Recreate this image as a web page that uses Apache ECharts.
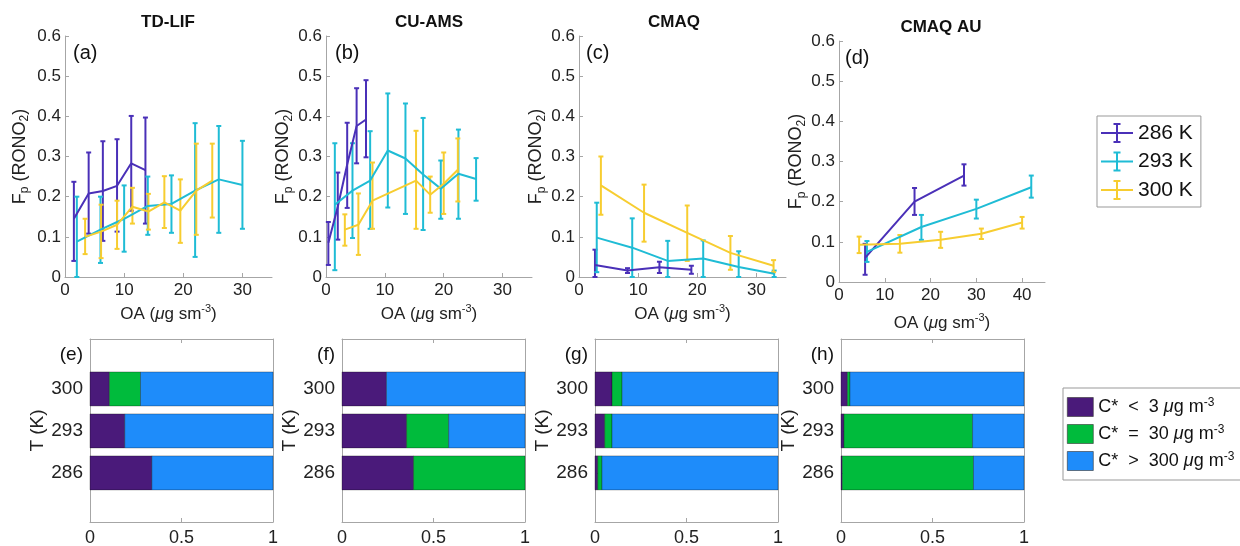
<!DOCTYPE html>
<html>
<head>
<meta charset="UTF-8">
<title>Fp(RONO2) vs OA</title>
<script src="https://cdn.jsdelivr.net/npm/echarts@6/dist/echarts.min.js"></script>
<style>html,body{margin:0;background:#fff;}</style>
</head>
<body>
<div id="main" style="width:1240px;height:546px;"></div>
<script>
// panel titles and series names
var titles = ['TD-LIF', 'CU-AMS', 'CMAQ', 'CMAQ AU'];
var temps = ['286 K', '293 K', '300 K'];
var tempColors = ['#4a30b8', '#1fbcd5', '#f7cd30'];

// each point: [OA, Fp, error low, error high]
var a286 = [[1.5,0.145,0.04,0.237],[4.0,0.208,0.108,0.31],[6.4,0.214,0.09,0.338],[8.8,0.227,0.113,0.343],[11.2,0.283,0.165,0.401],[13.6,0.266,0.133,0.397]];
var a293 = [[2,0.088,0,0.2],[6,0.118,0.035,0.2],[10,0.145,0.063,0.228],[14,0.177,0.105,0.25],[18,0.182,0.11,0.253],[22,0.215,0.05,0.383],[26,0.243,0.11,0.376],[30,0.229,0.12,0.339]];
var a300 = [[3.4,0.1,0.057,0.145],[6.1,0.113,0.047,0.18],[8.8,0.13,0.07,0.19],[11.4,0.175,0.133,0.222],[14.1,0.163,0.118,0.207],[16.8,0.186,0.122,0.251],[19.5,0.165,0.085,0.243],[22.2,0.215,0.105,0.332],[24.9,0.24,0.148,0.332]];

var b286 = [[0.4,0.085,0.03,0.137],[2.0,0.175,0.093,0.26],[3.6,0.28,0.172,0.384],[5.2,0.376,0.283,0.47],[6.8,0.392,0.298,0.49]];
var b293 = [[1.5,0.18,0.017,0.333],[4.5,0.215,0.097,0.333],[7.5,0.24,0.12,0.363],[10.5,0.315,0.173,0.457],[13.5,0.295,0.157,0.432],[16.5,0.255,0.117,0.396],[19.5,0.22,0.145,0.29],[22.5,0.257,0.145,0.367],[25.5,0.244,0.19,0.296]];
var b300 = [[3.2,0.118,0.078,0.156],[5.5,0.13,0.055,0.208],[7.9,0.19,0.12,0.285],[15.3,0.24,0.12,0.364],[17.7,0.205,0.16,0.25],[20.0,0.232,0.157,0.31],[22.4,0.267,0.188,0.345]];

var c286 = [[2.7,0.03,0,0.068],[8.2,0.016,0.01,0.022],[13.6,0.024,0.01,0.038],[19.0,0.018,0.008,0.028]];
var c293 = [[3,0.098,0.012,0.185],[9,0.073,0,0.146],[15,0.04,0,0.09],[21,0.046,0,0.091],[27,0.025,0,0.064],[33,0.008,0,0.016]];
var c300 = [[3.7,0.228,0.155,0.3],[11.0,0.16,0.088,0.23],[18.3,0.11,0.04,0.178],[25.6,0.06,0.018,0.102],[32.9,0.028,0.012,0.042]];

var d286 = [[5.7,0.06,0.018,0.095],[16.5,0.2,0.167,0.234],[27.3,0.265,0.24,0.293]];
var d293 = [[6.1,0.075,0.05,0.102],[18.0,0.137,0.105,0.167],[30.0,0.182,0.158,0.205],[42.0,0.236,0.21,0.265]];
var d300 = [[4.4,0.093,0.072,0.113],[13.3,0.095,0.073,0.117],[22.2,0.105,0.085,0.125],[31.1,0.12,0.107,0.133],[40.0,0.148,0.133,0.162]];

var topData = [[a286,a293,a300],[b286,b293,b300],[c286,c293,c300],[d286,d293,d300]];

// volatility fractions, order 286, 293, 300
var barTemps = ['286', '293', '300'];
var bins = ['C* < 3', 'C* = 30', 'C* > 300'];
var binColors = ['#4a1a7a', '#00bb3c', '#1e8cfa'];
var eLow = [0.338, 0.19, 0.106], eMid = [0, 0, 0.170], eHigh = [0.662, 0.81, 0.724];
var fLow = [0.391, 0.353, 0.243], fMid = [0.609, 0.230, 0], fHigh = [0, 0.417, 0.757];
var gLow = [0.015, 0.053, 0.093], gMid = [0.023, 0.040, 0.055], gHigh = [0.962, 0.907, 0.852];
var hLow = [0.007, 0.016, 0.035], hMid = [0.717, 0.703, 0.014], hHigh = [0.276, 0.281, 0.951];
var botData = [[eLow,eMid,eHigh],[fLow,fMid,fHigh],[gLow,gMid,gHigh],[hLow,hMid,hHigh]];

// layout
var FONT = '"Liberation Sans", Arial, sans-serif';
var GRAY = '#a6a6a6';
var TXT = '#222';
var topLeft = [65, 326, 579, 839];
var topTop = [36, 36, 36, 41];
var topWidth = [207, 206, 207, 206];
var topXMax = [35, 35, 35, 45];
var topXTicks = [[0,10,20,30],[0,10,20,30],[0,10,20,30],[0,10,20,30,40]];
var titleX = [168, 429, 674, 941];
var letters = ['(a)','(b)','(c)','(d)'];
var letterX = [73, 335, 586, 845];
var botLeft = [90, 342, 595, 841];
var botLetters = ['(e)','(f)','(g)','(h)'];

var myChart = echarts.init(document.getElementById('main'));

function renderErr(params, api) {
  var x = api.value(0);
  var p1 = api.coord([x, api.value(3)]);
  var p2 = api.coord([x, api.value(2)]);
  var w = 2.5;
  var st = {stroke: api.visual('color'), lineWidth: 2};
  return {type: 'group', children: [
    {type: 'line', shape: {x1: p1[0], y1: p1[1], x2: p2[0], y2: p2[1]}, style: st},
    {type: 'line', shape: {x1: p1[0]-w, y1: p1[1], x2: p1[0]+w, y2: p1[1]}, style: st},
    {type: 'line', shape: {x1: p2[0]-w, y1: p2[1], x2: p2[0]+w, y2: p2[1]}, style: st}
  ]};
}

function renderBar(params, api) {
  var y = api.value(2);
  var s = api.coord([api.value(0), y]);
  var e = api.coord([api.value(1), y]);
  var h = api.size([0, 1])[1] * 0.81;
  if (e[0] - s[0] <= 0) return;
  return {type: 'rect', shape: {x: s[0], y: s[1]-h/2, width: e[0]-s[0], height: h},
    style: {fill: api.visual('color'), stroke: 'rgba(0,0,0,0.5)', lineWidth: 0.6}};
}

var nameStyle = {fontSize: 17, color: TXT, fontFamily: FONT, lineHeight: 22,
  rich: {
    i: {fontSize: 17, fontStyle: 'italic', fontFamily: FONT, color: TXT, lineHeight: 22},
    sup: {fontSize: 11, verticalAlign: 'top', lineHeight: 8, fontFamily: FONT, color: TXT},
    sub: {fontSize: 11, verticalAlign: 'bottom', lineHeight: 10, fontFamily: FONT, color: TXT}
  }};

var option = {animation: false, backgroundColor: '#fff',
  grid: [], xAxis: [], yAxis: [], series: [], graphic: []};

// top panels
for (var k = 0; k < 4; k++) {
  option.grid.push({left: topLeft[k], top: topTop[k], width: topWidth[k], height: 241, outerBoundsMode: 'none'});
  option.xAxis.push({gridIndex: k, type: 'value', min: 0, max: topXMax[k],
    axisLine: {show: true, onZero: false, lineStyle: {color: GRAY}},
    axisTick: {show: true, inside: true, length: 4, customValues: topXTicks[k], lineStyle: {color: GRAY}},
    axisLabel: {customValues: topXTicks[k], fontSize: 17, color: TXT, fontFamily: FONT, margin: 5},
    splitLine: {show: false},
    name: 'OA ({i|μ}g sm{sup|-3})', nameLocation: 'middle', nameGap: k == 3 ? 30 : 26, nameTextStyle: nameStyle});
  option.yAxis.push({gridIndex: k, type: 'value', min: 0, max: 0.6, interval: 0.1,
    axisLine: {show: true, onZero: false, lineStyle: {color: GRAY}},
    axisTick: {show: true, inside: true, length: 4, lineStyle: {color: GRAY}},
    axisLabel: {fontSize: 17, color: TXT, fontFamily: FONT, margin: 4},
    splitLine: {show: false},
    name: 'F{sub|p} (RONO{sub|2})', nameLocation: 'middle', nameGap: k == 0 ? 34 : 28,
    nameTextStyle: {fontSize: 18, color: TXT, fontFamily: FONT, lineHeight: 22,
      rich: {sub: {fontSize: 12, verticalAlign: 'bottom', lineHeight: 10, fontFamily: FONT, color: TXT}}}});
  for (var t = 0; t < 3; t++) {
    var pts = topData[k][t];
    option.series.push({type: 'custom', name: temps[t], xAxisIndex: k, yAxisIndex: k,
      renderItem: renderErr, encode: {x: 0, y: [2, 3]}, itemStyle: {color: tempColors[t]},
      data: pts, z: 3});
    option.series.push({type: 'line', name: 'line ' + temps[t], xAxisIndex: k, yAxisIndex: k,
      data: pts.map(function (p) { return [p[0], p[1]]; }), showSymbol: false, symbol: 'none',
      lineStyle: {color: tempColors[t], width: 2}, itemStyle: {color: tempColors[t]}, z: 4});
  }
  option.graphic.push({type: 'text', x: titleX[k], y: topTop[k] - 14,
    style: {text: titles[k], fontSize: 17, fontWeight: 'bold', fontFamily: FONT, fill: '#111', align: 'center', verticalAlign: 'middle'}});
  option.graphic.push({type: 'text', x: letterX[k], y: topTop[k] + 17,
    style: {text: letters[k], fontSize: 20, fontFamily: FONT, fill: '#111', align: 'left', verticalAlign: 'middle'}});
}

// bottom panels
for (var k = 0; k < 4; k++) {
  var gi = 4 + k;
  option.grid.push({left: botLeft[k], top: 339, width: 183, height: 183, outerBoundsMode: 'none'});
  var xb = option.xAxis.length;
  option.xAxis.push({gridIndex: gi, type: 'value', min: 0, max: 1, interval: 0.5,
    axisLine: {show: true, onZero: false, lineStyle: {color: GRAY}},
    axisTick: {show: true, inside: true, length: 4, lineStyle: {color: GRAY}},
    axisLabel: {fontSize: 18, color: TXT, fontFamily: FONT, margin: 7},
    splitLine: {show: false}});
  option.xAxis.push({gridIndex: gi, type: 'value', position: 'top', min: 0, max: 1, interval: 0.5,
    axisLine: {show: true, onZero: false, lineStyle: {color: GRAY}},
    axisTick: {show: true, inside: true, length: 4, lineStyle: {color: GRAY}},
    axisLabel: {show: false}, splitLine: {show: false}});
  var yb = option.yAxis.length;
  option.yAxis.push({gridIndex: gi, type: 'value', min: -0.17, max: 4.19,
    axisLine: {show: true, onZero: false, lineStyle: {color: GRAY}},
    axisTick: {show: true, inside: true, length: 4, customValues: [1, 2, 3], lineStyle: {color: GRAY}},
    axisLabel: {customValues: [1, 2, 3], fontSize: 19, color: TXT, fontFamily: FONT, margin: 7,
      formatter: function (v) { return barTemps[Math.round(v) - 1]; }},
    splitLine: {show: false},
    name: 'T (K)', nameLocation: 'middle', nameGap: 41, nameTextStyle: {fontSize: 19, color: TXT, fontFamily: FONT}});
  option.yAxis.push({gridIndex: gi, type: 'value', position: 'right', min: -0.17, max: 4.19,
    axisLine: {show: true, onZero: false, lineStyle: {color: GRAY}},
    axisTick: {show: true, inside: true, length: 4, customValues: [1, 2, 3], lineStyle: {color: GRAY}},
    axisLabel: {show: false}, splitLine: {show: false}});
  for (var b = 0; b < 3; b++) {
    var rows = [];
    for (var i = 0; i < 3; i++) {
      var start = 0;
      for (var j = 0; j < b; j++) start += botData[k][j][i];
      rows.push([start, start + botData[k][b][i], i + 1]);
    }
    option.series.push({type: 'custom', name: bins[b], xAxisIndex: xb, yAxisIndex: yb,
      renderItem: renderBar, encode: {x: [0, 1], y: 2}, itemStyle: {color: binColors[b]}, data: rows});
  }
  option.graphic.push({type: 'text', x: botLeft[k] - 7, y: 355,
    style: {text: botLetters[k], fontSize: 19, fontFamily: FONT, fill: '#111', align: 'right', verticalAlign: 'middle'}});
}

var errIcon = 'path://M0,10L32,10L32,12L0,12Z M15,1L17,1L17,21L15,21Z M12.5,1L19.5,1L19.5,3L12.5,3Z M12.5,19L19.5,19L19.5,21L12.5,21Z';
var binText = {
  'C* < 3': 'C*  <  3 {i|μ}g m{sup|-3}',
  'C* = 30': 'C*  =  30 {i|μ}g m{sup|-3}',
  'C* > 300': 'C*  >  300 {i|μ}g m{sup|-3}'
};

option.legend = [
  {data: temps.map(function (n) { return {name: n, icon: errIcon}; }),
    orient: 'vertical', left: 1097, top: 116, padding: [6, 8, 6, 4],
    borderColor: '#999', borderWidth: 1, itemWidth: 32, itemHeight: 22, itemGap: 6.5,
    selectedMode: false, textStyle: {fontSize: 21, color: '#111', fontFamily: FONT, lineHeight: 22}},
  {data: bins.map(function (n) { return {name: n, icon: 'rect'}; }),
    orient: 'vertical', left: 1063, top: 388, padding: [9, 12, 9, 4],
    borderColor: '#999', borderWidth: 1, itemWidth: 26, itemHeight: 19, itemGap: 7,
    selectedMode: false, itemStyle: {borderColor: '#333', borderWidth: 0.6},
    formatter: function (n) { return binText[n]; },
    textStyle: {fontSize: 18, color: '#111', fontFamily: FONT, lineHeight: 20,
      rich: {i: {fontSize: 18, fontStyle: 'italic', fontFamily: FONT, color: '#111', lineHeight: 20},
             sup: {fontSize: 12, verticalAlign: 'top', lineHeight: 8, fontFamily: FONT, color: '#111'}}}}
];

myChart.setOption(option);
</script>
</body>
</html>
